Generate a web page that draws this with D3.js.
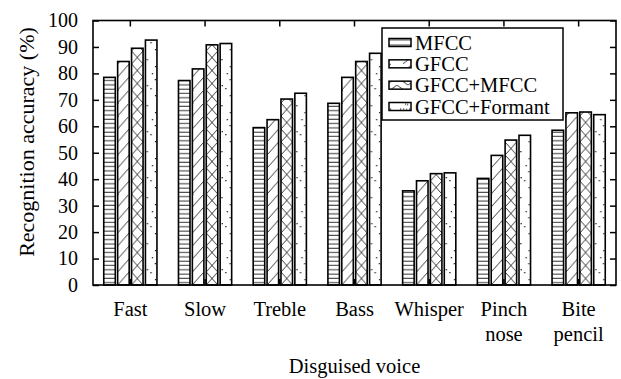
<!DOCTYPE html>
<html>
<head>
<meta charset="utf-8">
<script src="https://cdn.jsdelivr.net/npm/d3@7"></script>
<style>
  html, body { margin: 0; padding: 0; background: #fff; }
  svg { display: block; font-family: "Liberation Serif", "Times New Roman", serif; }
</style>
</head>
<body>
<svg width="621" height="379"></svg>
<script>
const categories = ["Fast", "Slow", "Treble", "Bass", "Whisper", "Pinch nose", "Bite pencil"];
const seriesNames = ["MFCC", "GFCC", "GFCC+MFCC", "GFCC+Formant"];
const mfcc = [78.5, 77.3, 59.5, 68.7, 35.6, 40.3, 58.5];
const gfcc = [84.5, 81.7, 62.5, 78.5, 39.4, 49.0, 65.1];
const gfccMfcc = [89.5, 90.8, 70.3, 84.5, 42.1, 54.8, 65.4];
const gfccFormant = [92.6, 91.3, 72.5, 87.6, 42.4, 56.6, 64.4];
const yTicks = [0, 10, 20, 30, 40, 50, 60, 70, 80, 90, 100];

const seriesValues = [mfcc, gfcc, gfccMfcc, gfccFormant];

const svg = d3.select("svg");
const margin = { top: 20.5, right: 5, bottom: 94, left: 93 };
const width = 621, height = 379;
const x0 = margin.left, x1 = width - margin.right;
const yTop = margin.top, yBot = height - margin.bottom;

const x = d3.scaleBand().domain(categories).range([x0, x1]).padding(0);
const xs = d3.scaleBand().domain(seriesNames).range([-26.6, 26.6]).paddingInner(0.17);
const y = d3.scaleLinear().domain([0, 100]).range([yBot, yTop]);

const defs = svg.append("defs");
const PERIOD = 13;

// one pattern per bar so the hatching lines up with each bar's edges
function addPattern(id, kind, px, py, w) {
  const p = defs.append("pattern")
    .attr("id", id)
    .attr("patternUnits", "userSpaceOnUse")
    .attr("x", px).attr("y", py)
    .attr("width", w)
    .attr("height", kind === 3 ? 46 : (kind === 0 ? 4.3 : PERIOD));
  p.append("rect").attr("width", w).attr("height", 60).attr("fill", "#fff");
  if (kind === 0) {
    p.append("line").attr("x1", 0).attr("x2", w).attr("y1", 2).attr("y2", 2)
      .attr("stroke", "#444").attr("stroke-width", 1.1);
  } else if (kind === 1) {
    p.append("line").attr("x1", 0).attr("y1", PERIOD).attr("x2", w).attr("y2", 0)
      .attr("stroke", "#222").attr("stroke-width", 0.9);
  } else if (kind === 2) {
    p.append("line").attr("x1", 0).attr("y1", PERIOD).attr("x2", w).attr("y2", 0)
      .attr("stroke", "#222").attr("stroke-width", 0.9);
    p.append("line").attr("x1", 0).attr("y1", 0).attr("x2", w).attr("y2", PERIOD)
      .attr("stroke", "#222").attr("stroke-width", 0.9);
  } else {
    const dots = [[1.2, 4], [w - 2, 11], [w - 2.2, 24], [1.5, 30], [5, 33], [w - 2, 40], [6.5, 18]];
    dots.forEach(d => p.append("rect").attr("x", d[0]).attr("y", d[1])
      .attr("width", 1.3).attr("height", 1.3).attr("fill", "#222"));
  }
}

const cells = [];
categories.forEach((c, i) => {
  seriesNames.forEach((s, j) => {
    cells.push({ cat: c, series: s, k: j, value: seriesValues[j][i], id: `p${i}_${j}` });
  });
});

const bw = xs.bandwidth();
cells.forEach(d => {
  const bx = x(d.cat) + x.bandwidth() / 2 + xs(d.series);
  addPattern(d.id, d.k, bx, yBot, bw);
});

svg.append("g").selectAll("rect")
  .data(cells)
  .join("rect")
  .attr("x", d => x(d.cat) + x.bandwidth() / 2 + xs(d.series))
  .attr("y", d => y(d.value))
  .attr("width", bw)
  .attr("height", d => yBot - y(d.value))
  .attr("fill", d => `url(#${d.id})`)
  .attr("stroke", "#000")
  .attr("stroke-width", 1.6);

// axes: inward ticks on all four sides
const axisLeft = d3.axisLeft(y).tickValues(yTicks).tickSizeInner(-6).tickSizeOuter(0).tickPadding(15);
const gl = svg.append("g").attr("transform", `translate(${x0},0)`).call(axisLeft);
gl.select(".domain").remove();
gl.selectAll("text").attr("font-size", 20).attr("font-family", "Liberation Serif").attr("fill", "#000");

const gr = svg.append("g").attr("transform", `translate(${x1},0)`)
  .call(d3.axisRight(y).tickValues(yTicks).tickSizeInner(-6).tickSizeOuter(0).tickFormat(""));
gr.select(".domain").remove();

const gt = svg.append("g").attr("transform", `translate(0,${yTop})`)
  .call(d3.axisTop(x).tickSizeInner(-6).tickSizeOuter(0).tickFormat(""));
gt.select(".domain").remove();

const gb = svg.append("g").attr("transform", `translate(0,${yBot})`)
  .call(d3.axisBottom(x).tickSizeInner(-6).tickSizeOuter(0).tickFormat(""));
gb.select(".domain").remove();

svg.selectAll(".tick line").attr("stroke", "#000").attr("stroke-width", 1.5);

svg.append("rect")
  .attr("x", x0).attr("y", yTop)
  .attr("width", x1 - x0).attr("height", yBot - yTop)
  .attr("fill", "none").attr("stroke", "#000").attr("stroke-width", 1.6);

// category labels, split onto two lines where needed
const catLabels = svg.append("g").selectAll("text")
  .data(categories)
  .join("text")
  .attr("x", d => x(d) + x.bandwidth() / 2)
  .attr("y", 316)
  .attr("text-anchor", "middle")
  .attr("font-size", 20.5)
  .attr("fill", "#000");
catLabels.selectAll("tspan")
  .data(d => d.split(" "))
  .join("tspan")
  .attr("x", function () { return this.parentNode.getAttribute("x"); })
  .attr("dy", (d, i) => i ? 25 : 0)
  .text(d => d);

svg.append("text")
  .attr("x", (x0 + x1) / 2).attr("y", 373)
  .attr("text-anchor", "middle").attr("font-size", 20.5)
  .text("Disguised voice");

svg.append("text")
  .attr("transform", `translate(34,142) rotate(-90)`)
  .attr("text-anchor", "middle").attr("font-size", 22)
  .text("Recognition accuracy (%)");

// legend
const legend = svg.append("g").attr("transform", "translate(382,28)");
legend.append("rect")
  .attr("width", 181).attr("height", 92)
  .attr("fill", "#fff").attr("stroke", "#000").attr("stroke-width", 1.5);

const rowY = d3.scalePoint().domain(seriesNames).range([14.5, 78.5]);
seriesNames.forEach((s, j) => {
  const sy = rowY(s) - 4;
  const pid = `leg${j}`;
  const p = defs.append("pattern").attr("id", pid).attr("patternUnits", "userSpaceOnUse")
    .attr("x", 389).attr("y", 28 + sy).attr("width", 22).attr("height", 8);
  p.append("rect").attr("width", 22).attr("height", 8).attr("fill", "#fff");
  if (j === 0) {
    [2.7, 5.3].forEach(ly => p.append("line").attr("x1", 0).attr("x2", 22)
      .attr("y1", ly).attr("y2", ly).attr("stroke", "#333").attr("stroke-width", 1.1));
  } else if (j === 1) {
    p.append("line").attr("x1", 6).attr("y1", 8).attr("x2", 16).attr("y2", 0)
      .attr("stroke", "#222").attr("stroke-width", 0.9);
  } else if (j === 2) {
    p.append("polyline").attr("points", "0,0 11,8 22,0")
      .attr("fill", "none").attr("stroke", "#222").attr("stroke-width", 0.9);
  } else {
    [[3, 2], [6, 2], [9, 2.5], [12, 2], [15, 2], [8, 5], [10, 5.5]].forEach(d =>
      p.append("rect").attr("x", d[0]).attr("y", d[1]).attr("width", 1.2).attr("height", 1.2).attr("fill", "#222"));
  }
  legend.append("rect")
    .attr("x", 7).attr("y", sy).attr("width", 22).attr("height", 8)
    .attr("fill", `url(#${pid})`).attr("stroke", "#000").attr("stroke-width", 1.5);
  legend.append("text")
    .attr("x", 33).attr("y", rowY(s))
    .attr("dominant-baseline", "central")
    .attr("font-size", 20.5)
    .text(s);
});
</script>
</body>
</html>
